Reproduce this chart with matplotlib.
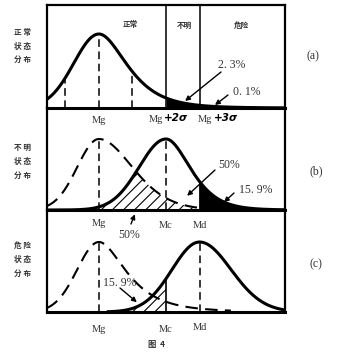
import numpy as np
import matplotlib
matplotlib.use('Agg')
import matplotlib.pyplot as plt

# ---------------- data ----------------
MARKS = ['Mg', 'Mc', 'Md']
MARK_SIGMA = [0.0, 2.0, 3.0]          # Mg, Mc (=Mg+2σ), Md (=Mg+3σ) in σ units
SIGMA_GUIDES = [-1.0, 0.0, 1.0]       # dashed guides in panel (a)
ZONES = ['正常', '不明', '危险']
ROW_LABELS = [['正 常', '状 态', '分 布'],
              ['不 明', '状 态', '分 布'],
              ['危 险', '状 态', '分 布']]
PANEL_TAGS = ['(a)', '(b)', '(c)']
SIGMA_TAGS = ['+2σ', '+3σ']
# bell curves: mean, left sigma, right sigma, growth of right sigma per σ
NORMAL_A = [0.0, 0.75, 0.674, 0.163]
NORMAL_B = [0.0, 0.646, 0.92, 0.07]
UNCLEAR_B = [2.0, 0.80, 0.62, 0.12]
NORMAL_C = [0.0, 0.65, 0.62, 0.20]
DANGER_C = [3.0, 0.82, 0.93, 0.01]
PCT_A = ['2. 3%', '0. 1%']
PCT_B = ['50%', '15. 9%', '50%']
PCT_C = ['15. 9%']
CAPTION = '图  4'

# ---------------- layout ----------------
W, H = 349, 363
fig = plt.figure(figsize=(W / 100, H / 100), dpi=100)
fig.patch.set_facecolor('white')
plt.rcParams['hatch.linewidth'] = 0.8
BOX_L, BOX_R = 47, 285
PANELS = [(5, 108, 74), (108, 210, 71), (210, 312, 70)]   # top, baseline, peak (px)
XLIM = (-1.55, 5.55)
TXT = '#333333'
SERIF = 'Liberation Serif'
CJK = ['Noto Sans CJK SC', 'DejaVu Sans']


def fx(px):
    return px / W


def fy(py):
    return 1 - py / H


def bell(x, mu, sl, sr, k):
    z = x - mu
    s = np.where(z < 0, sl, sr + k * np.abs(z))
    return np.exp(-0.5 * (z / s) ** 2)


def masked(y, thr=0.006):
    y = y.copy()
    y[y < thr] = np.nan
    return y


x = np.union1d(np.linspace(XLIM[0], XLIM[1], 1201), MARK_SIGMA)

axes = []
for i, (top, base, peak) in enumerate(PANELS):
    ax = fig.add_axes([fx(BOX_L), fy(base), (BOX_R - BOX_L) / W, (base - top) / H])
    ax.set_xlim(*XLIM)
    ax.set_ylim(0, (base - top) / peak)
    ax.set_xticks([])
    ax.set_yticks([])
    ax.patch.set_alpha(0)
    for s in ['left', 'right']:
        ax.spines[s].set_linewidth(1.6)
    ax.spines['bottom'].set_linewidth(2.2)
    if i == 0:
        ax.spines['top'].set_linewidth(1.6)
    else:
        ax.spines['top'].set_visible(False)
    axes.append(ax)

arrow_kw = dict(arrowstyle='-|>', lw=1.0, color='black', mutation_scale=7,
                shrinkA=0, shrinkB=0)


def arrow(ax, head, tail_px):
    ax.annotate('', xy=head, xycoords='data',
                xytext=(tail_px[0], H - tail_px[1]), textcoords='figure pixels',
                arrowprops=arrow_kw, annotation_clip=False)


dash_curve = (6, 3.5)
dash_guide = (5, 3)

# ---------------- panel (a) ----------------
ax = axes[0]
ya = bell(x, *NORMAL_A)
ax.fill_between(x, ya, where=(x >= MARK_SIGMA[1]) & (x <= 3.55), color='black', lw=0)
ax.plot(x, ya, color='black', lw=2.2, solid_capstyle='round')
for g in SIGMA_GUIDES:
    ax.plot([g, g], [0, bell(np.array([g]), *NORMAL_A)[0]], color='black', lw=1.1,
            dashes=dash_guide)
for m in MARK_SIGMA[1:]:
    ax.plot([m, m], [0, ax.get_ylim()[1]], color='black', lw=1.1)
zone_px = [130, 184, 241]
for name, zx in zip(ZONES, zone_px):
    fig.text(fx(zx), fy(25), name, family=CJK, fontsize=5.5, weight='bold',
             ha='center', va='center', color=TXT)
fig.text(fx(218), fy(65), PCT_A[0], family=SERIF, fontsize=8.5, ha='left', va='center', color=TXT)
fig.text(fx(233), fy(92), PCT_A[1], family=SERIF, fontsize=8.5, ha='left', va='center', color=TXT)
arrow(ax, (2.57, 0.095), (221, 72))
arrow(ax, (3.46, 0.04), (228, 95))
fig.text(fx(99), fy(121), MARKS[0], family=SERIF, fontsize=7.5, ha='center', va='center', color=TXT)
for px_mg, px_tag, tag in [(163, 164, SIGMA_TAGS[0]), (212, 214, SIGMA_TAGS[1])]:
    fig.text(fx(px_mg), fy(119), MARKS[0], family=SERIF, fontsize=7.5, ha='right', va='center', color=TXT)
    fig.text(fx(px_tag), fy(118), tag, family='DejaVu Sans', fontsize=7.5, weight='bold',
             style='italic', ha='left', va='center', color='black')

# ---------------- panel (b) ----------------
ax = axes[1]
yn = bell(x, *NORMAL_B)
yu = bell(x, *UNCLEAR_B)
ax.fill_between(x, np.minimum(yn, yu), where=x <= MARK_SIGMA[2], facecolor='none',
                edgecolor='black', hatch='///', lw=0)
ax.fill_between(x, yu, where=x >= MARK_SIGMA[2], color='black', lw=0)
ax.plot(x, masked(yn), color='black', lw=1.5, dashes=dash_curve)
ax.plot(x, yu, color='black', lw=2.2)
ax.plot([MARK_SIGMA[0]] * 2, [0, 1], color='black', lw=1.1, dashes=dash_guide)
ax.plot([MARK_SIGMA[1]] * 2, [0, 1], color='black', lw=1.1, dashes=dash_guide)
ax.plot([MARK_SIGMA[2]] * 2, [0, bell(np.array([MARK_SIGMA[2]]), *UNCLEAR_B)[0]],
        color='black', lw=1.3)
fig.text(fx(218), fy(165), PCT_B[0], family=SERIF, fontsize=8.5, ha='left', va='center', color=TXT)
fig.text(fx(239), fy(190), PCT_B[1], family=SERIF, fontsize=8.5, ha='left', va='center', color=TXT)
fig.text(fx(129), fy(235), PCT_B[2], family=SERIF, fontsize=8.5, ha='center', va='center', color=TXT)
arrow(ax, (2.63, 0.2), (215, 170))
arrow(ax, (3.73, 0.11), (234, 193))
arrow(ax, (1.07, -0.06), (131, 224))
for name, m, py in zip(MARKS, MARK_SIGMA, [223, 226, 226]):
    fig.text(fx(99 + 33.5 * m), fy(py), name, family=SERIF, fontsize=7.5,
             ha='center', va='center', color=TXT)

# ---------------- panel (c) ----------------
ax = axes[2]
yn = bell(x, *NORMAL_C)
yd = bell(x, *DANGER_C)
ax.fill_between(x, yd, where=x <= MARK_SIGMA[1], facecolor='none',
                edgecolor='black', hatch='///', lw=0)
ax.plot(x, masked(yn, 0.02), color='black', lw=1.5, dashes=dash_curve)
ax.plot(x, masked(yd, 0.004), color='black', lw=2.2)
ax.plot([MARK_SIGMA[0]] * 2, [0, 1], color='black', lw=1.1, dashes=dash_guide)
ax.plot([MARK_SIGMA[2]] * 2, [0, 1], color='black', lw=1.1, dashes=dash_guide)
ax.plot([MARK_SIGMA[1]] * 2, [0, bell(np.array([MARK_SIGMA[1]]), *DANGER_C)[0]],
        color='black', lw=1.2)
fig.text(fx(103), fy(283), PCT_C[0], family=SERIF, fontsize=8.5, ha='left', va='center', color=TXT)
arrow(ax, (1.13, 0.14), (120, 288))
for name, m, py in zip(MARKS, MARK_SIGMA, [329, 330, 328]):
    fig.text(fx(99 + 33.5 * m), fy(py), name, family=SERIF, fontsize=7.5,
             ha='center', va='center', color=TXT)

# ---------------- side labels ----------------
rows_py = [[33, 46, 59], [147, 161, 175], [245, 259, 273]]
for rows, ys in zip(ROW_LABELS, rows_py):
    for t, py in zip(rows, ys):
        fig.text(fx(22), fy(py), t, family=CJK, fontsize=5.5, weight='bold',
                 ha='center', va='center', color=TXT)
for tag, (px, py) in zip(PANEL_TAGS, [(313, 56), (316, 171), (316, 264)]):
    fig.text(fx(px), fy(py), tag, family=SERIF, fontsize=8.5, ha='center', va='center', color=TXT)
fig.text(fx(157), fy(345), CAPTION, family=CJK, fontsize=6, weight='bold',
         ha='center', va='center', color=TXT)

fig.savefig('out.png', dpi=100, facecolor='white')
